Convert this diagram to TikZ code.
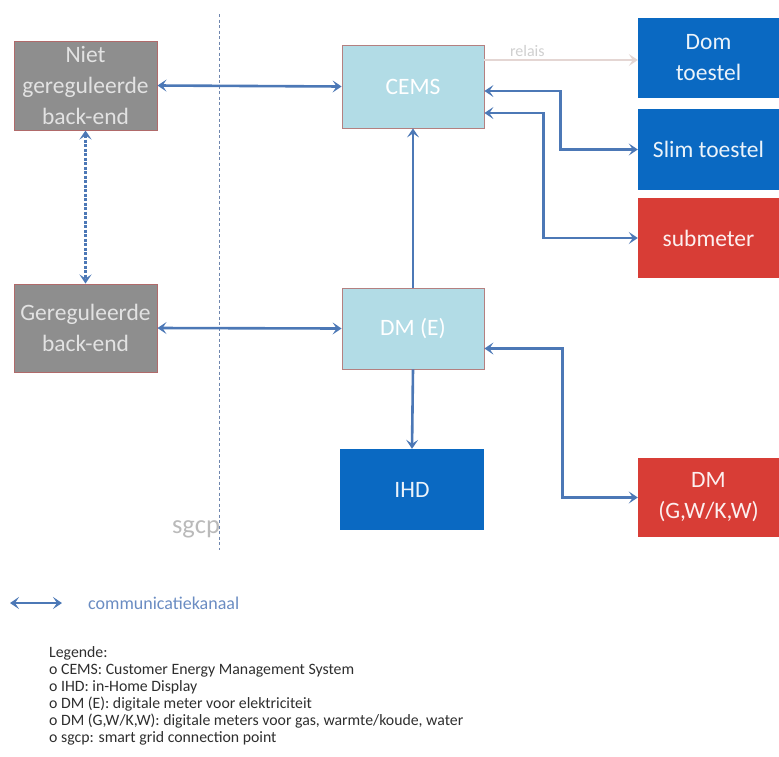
\documentclass[tikz,border=0pt]{standalone}
\usepackage{fontspec}
\setmainfont{Carlito}
\usetikzlibrary{arrows.meta,calc}
\definecolor{grayfill}{HTML}{8E8E8E}
\definecolor{grayborder}{HTML}{B06A6A}
\definecolor{graytext}{HTML}{E2E2E2}
\definecolor{lightblue}{HTML}{B2DCE6}
\definecolor{lbborder}{HTML}{B48080}
\definecolor{darkblue}{HTML}{0A69C2}
\definecolor{boxred}{HTML}{D83D36}
\definecolor{arrowblue}{HTML}{4C78B6}
\definecolor{relaiscol}{HTML}{E4D6D3}
\definecolor{relaistext}{HTML}{CFCFCF}
\definecolor{sgcpline}{HTML}{6F86AE}
\definecolor{legendblue}{HTML}{6A8CC2}
\definecolor{legendtext}{HTML}{2E2E2E}
\begin{document}
\begin{tikzpicture}[x=1pt,y=-1pt,
  box/.style={rectangle,inner sep=0pt,align=center,
    font=\fontsize{23.5}{31}\selectfont},
  graybox/.style={box,fill=grayfill,draw=grayborder,line width=1pt,text=graytext,
    minimum width=143pt,minimum height=89pt},
  lbbox/.style={box,fill=lightblue,draw=lbborder,line width=0.8pt,text=white,
    minimum width=142pt,minimum height=82pt},
  bluebox/.style={box,fill=darkblue,text=white!92!darkblue,
    minimum width=141pt,minimum height=81pt},
  redbox/.style={box,fill=boxred,text=white!92!boxred,
    minimum width=141pt,minimum height=80pt},
  link/.style={draw=arrowblue,line width=2.6pt},
  tip/.tip={Stealth[length=9pt,width=12pt,inset=4pt]},
  both/.style={link,{tip}-{tip}},
  one/.style={link,-{tip}},
]
\useasboundingbox (0,0) rectangle (779,756);

% sgcp line
\coordinate (sgtop) at (219,14);
\coordinate (sgbot) at (219,550);
\draw[sgcpline,line width=0.9pt,dash pattern=on 3pt off 2.5pt] (sgtop) -- (sgbot);
\node[text=relaistext!90!black,font=\fontsize{26.5}{30}\selectfont,anchor=base] (sgcp) at (196,533) {sgcp};

% boxes
\node[graybox] (niet) at (85.5,85.5) {Niet\\gereguleerde\\back-end};
\node[graybox,minimum height=88pt] (gereg) at (85.5,328) {Gereguleerde\\back-end};
\node[lbbox,minimum height=83pt] (cems) at (413,86.5) {CEMS};
\node[lbbox,minimum height=81pt] (dme) at (413,328.5) {DM (E)};
\node[bluebox,minimum width=144pt] (ihd) at (412,489.5) {IHD};
\node[bluebox,minimum height=80pt] (dom) at (708.5,58) {Dom\\toestel};
\node[bluebox] (slim) at (708.5,149.5) {Slim toestel};
\node[redbox] (sub) at (708.5,238) {submeter};
\node[redbox,minimum height=79pt] (dmg) at (708.5,497.5) {DM\\(G,W/K,W)};

% connectors
\draw[both] (niet.east) -- (cems.west);
\draw[both,dash pattern=on 3pt off 1.5pt] (niet.south) -- (gereg.north);
\draw[both] (gereg.east) -- (dme.west);
\draw[one] (dme.north) -- (cems.south);
\draw[one] (dme.south) -- (ihd.north);
\draw[both] ([yshift=-20pt]dme.east) -- ++(78,0) |- (dmg.west);
\draw[both] ([yshift=-4.5pt]cems.east) -- ++(76,0) |- (slim.west);
\draw[both] ([yshift=-26.5pt]cems.east) -- ++(59,0) |- (sub.west);
\draw[draw=relaiscol,line width=2.6pt,-{Stealth[length=9pt,width=12pt,inset=4pt]}]
  ([yshift=26.5pt]cems.east) -- node[above=-1pt,pos=0.28,text=relaistext,font=\fontsize{16}{18}\selectfont] (rel) {relais} ([yshift=-2pt]dom.west);

% legend
\coordinate (la) at (10,603);
\coordinate (lb) at (62,603);
\draw[both] (la) -- (lb);
\node[anchor=west,text=legendblue,font=\fontsize{18}{20}\selectfont,inner sep=0pt] (comm) at (88,603) {communicatiekanaal};
\node[anchor=north west,inner sep=0pt,align=left,text=legendtext,
  font=\fontsize{15.8}{17}\selectfont] (leg) at (49,646) {Legende:\\
o CEMS: Customer Energy Management System\\
o IHD: in-Home Display\\
o DM (E): digitale meter voor elektriciteit\\
o DM (G,W/K,W): digitale meters voor gas, warmte/koude, water\\
o sgcp: smart grid connection point};
\end{tikzpicture}
\end{document}
